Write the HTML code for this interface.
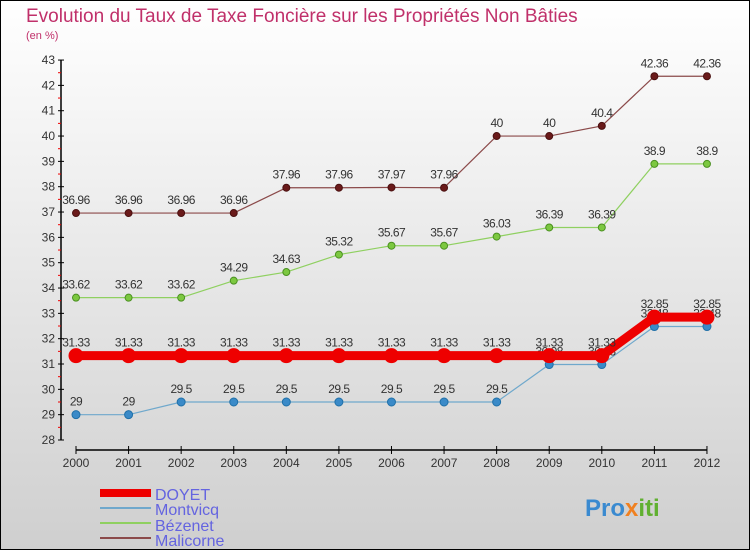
<!DOCTYPE html>
<html><head><meta charset="utf-8"><style>
html,body{margin:0;padding:0}
body{width:750px;height:550px;overflow:hidden;font-family:"Liberation Sans",sans-serif}
svg text{font-family:"Liberation Sans",sans-serif}
</style></head><body>
<svg id="chart" width="750" height="550" xmlns="http://www.w3.org/2000/svg">
<defs><linearGradient id="bg" x1="0" y1="0" x2="0" y2="1"><stop offset="0" stop-color="#ffffff"/><stop offset="1" stop-color="#cfcfcf"/></linearGradient></defs>
<rect x="0.5" y="0.5" width="749" height="549" fill="url(#bg)" stroke="#000"/>
<text x="26" y="22" font-size="19" fill="#c0306a">Evolution du Taux de Taxe Foncière sur les Propriétés Non Bâties</text>
<text x="26" y="39" font-size="11" fill="#c0306a">(en %)</text>
<g id="axes"></g><g id="series"></g>
<g>
<rect x="100" y="489" width="51" height="8" fill="#e00"/>
<line x1="100" y1="508" x2="151" y2="508" stroke="#6fa8cc" stroke-width="2"/>
<line x1="100" y1="523" x2="151" y2="523" stroke="#8fd060" stroke-width="2"/>
<line x1="100" y1="538" x2="151" y2="538" stroke="#8b4a4a" stroke-width="2"/>
<text x="155" y="500" font-size="16" fill="#6464e0">DOYET</text>
<text x="155" y="515" font-size="16" fill="#6464e0">Montvicq</text>
<text x="155" y="531" font-size="16" fill="#6464e0">Bézenet</text>
<text x="155" y="546" font-size="16" fill="#6464e0">Malicorne</text>
</g>
<text x="585" y="516" font-size="24" font-weight="bold" fill="#3a8ad0">Pro<tspan fill="#f08020">x</tspan><tspan fill="#60b030">iti</tspan></text>
</svg>
<script>
const years=[2000,2001,2002,2003,2004,2005,2006,2007,2008,2009,2010,2011,2012];
const doyet=[31.33,31.33,31.33,31.33,31.33,31.33,31.33,31.33,31.33,31.33,31.33,32.85,32.85];
const montvicq=[29,29,29.5,29.5,29.5,29.5,29.5,29.5,29.5,30.98,30.98,32.48,32.48];
const bezenet=[33.62,33.62,33.62,34.29,34.63,35.32,35.67,35.67,36.03,36.39,36.39,38.9,38.9];
const malicorne=[36.96,36.96,36.96,36.96,37.96,37.96,37.97,37.96,40,40,40.4,42.36,42.36];
const yTicks=[28,29,30,31,32,33,34,35,36,37,38,39,40,41,42,43];
const NS="http://www.w3.org/2000/svg";
function X(i){return 76+i*52.58;}
function Y(v){return 440-(v-28)*25.33;}
function mk(tag,attrs,parent){const e=document.createElementNS(NS,tag);for(const k in attrs)e.setAttribute(k,attrs[k]);parent.appendChild(e);return e;}
const ax=document.getElementById('axes');
mk('line',{x1:61,y1:Y(43),x2:61,y2:440,stroke:'#000','stroke-width':1.5},ax);
mk('line',{x1:76,y1:450,x2:707,y2:450,stroke:'#000','stroke-width':1.5},ax);
yTicks.forEach(v=>{
 mk('line',{x1:58,y1:Y(v),x2:64,y2:Y(v),stroke:'#000'},ax);
 if(v<43)mk('line',{x1:58,y1:Y(v+0.5),x2:61,y2:Y(v+0.5),stroke:'#e00'},ax);
 const t=mk('text',{x:55,y:Y(v)+4,'font-size':12,'text-anchor':'end',fill:'#333'},ax);t.textContent=v;
 
 
});
years.forEach((yr,i)=>{
 mk('line',{x1:X(i),y1:446,x2:X(i),y2:454,stroke:'#000'},ax);
 const t=mk('text',{x:X(i),y:467,'font-size':12,'text-anchor':'middle',fill:'#333'},ax);t.textContent=yr;
 
 
});
const sg=document.getElementById('series');
function draw(name,vals,color,w,r,ptFill,ptStroke){
 const g=mk('g',{},sg);
 
 
 mk('polyline',{points:vals.map((v,i)=>X(i)+','+Y(v)).join(' '),fill:'none',stroke:color,'stroke-width':w,'stroke-linejoin':'round'},g);
 vals.forEach((v,i)=>{
  const c=mk('circle',{cx:X(i),cy:Y(v),r:r,fill:ptFill,stroke:ptStroke},g);
  
  
  const t=mk('text',{x:X(i),y:Y(v)-9,'font-size':12,'text-anchor':'middle',fill:'#333','letter-spacing':'-0.5'},g);t.textContent=v;
  
  
 });
}
draw('malicorne',malicorne,'#8b4a4a',1.2,3.5,'#6a1a1a','#4a1010');
draw('bezenet',bezenet,'#8fd060',1.2,3.5,'#7cc840','#4a9020');
draw('montvicq',montvicq,'#6fa8cc',1.2,4,'#3a8ac8','#2070a8');
draw('doyet',doyet,'#ee0000',9,7,'#ee0000','#ee0000');
</script>
</body></html>
